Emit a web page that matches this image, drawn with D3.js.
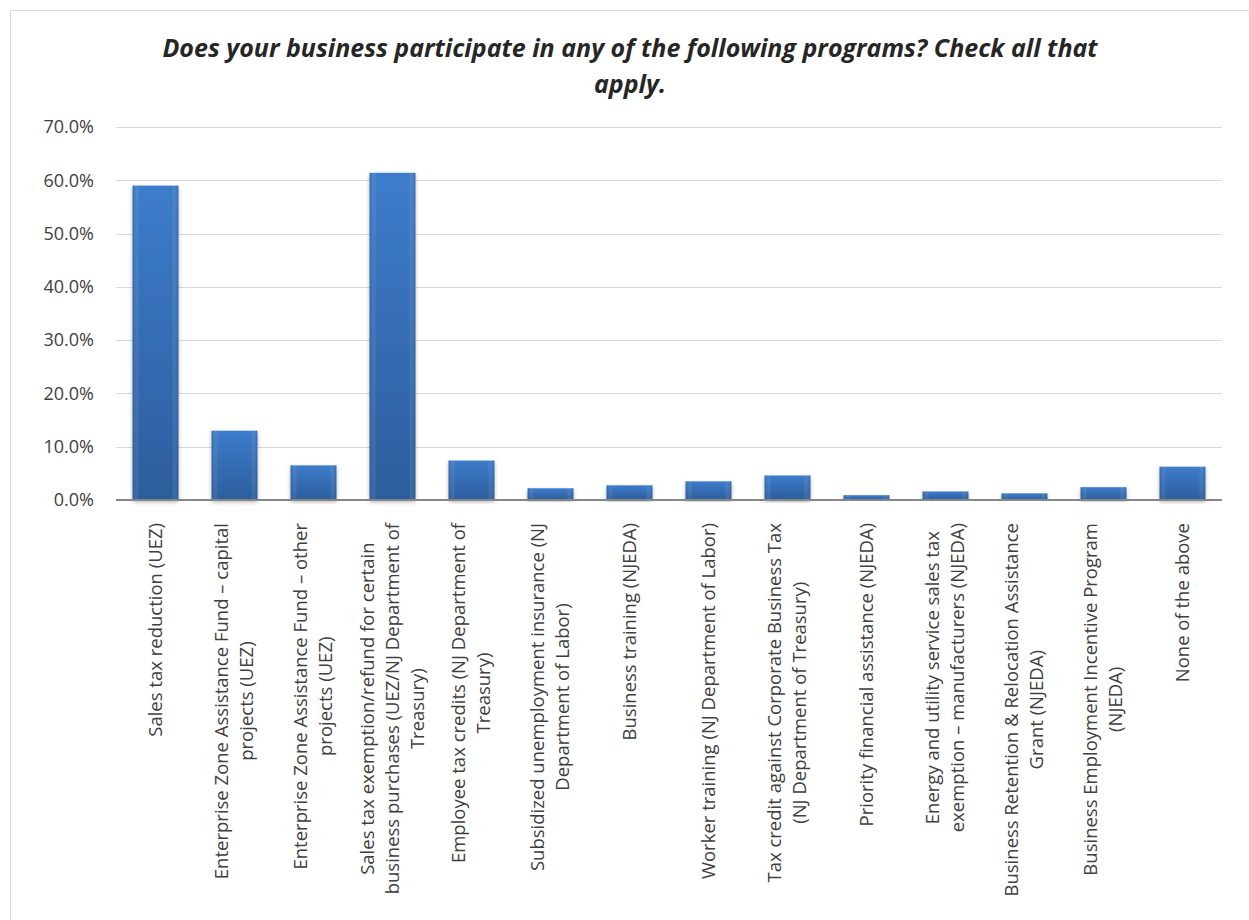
<!DOCTYPE html>
<html>
<head>
<meta charset="utf-8">
<script src="https://cdn.jsdelivr.net/npm/d3@7"></script>
<style>
  body { margin: 0; background: #fff; }
  #chart { width: 1249px; height: 920px; }
  text { font-family: "Open Sans", "Noto Sans", sans-serif; }
</style>
</head>
<body>
<div id="chart"></div>
<script>
// categories (line breaks as in the original axis labels)
const categories = [
    ["Sales tax reduction (UEZ)"],
    ["Enterprise Zone Assistance Fund \u2013 capital", "projects (UEZ)"],
    ["Enterprise Zone Assistance Fund \u2013 other", "projects (UEZ)"],
    ["Sales tax exemption/refund for certain", "business purchases (UEZ/NJ Department of", "Treasury)"],
    ["Employee tax credits (NJ Department of", "Treasury)"],
    ["Subsidized unemployment insurance (NJ", "Department of Labor)"],
    ["Business training (NJEDA)"],
    ["Worker training (NJ Department of Labor)"],
    ["Tax credit against Corporate Business Tax", "(NJ Department of Treasury)"],
    ["Priority financial assistance (NJEDA)"],
    ["Energy and utility service sales tax", "exemption \u2013 manufacturers (NJEDA)"],
    ["Business Retention & Relocation Assistance", "Grant (NJEDA)"],
    ["Business Employment Incentive Program", "(NJEDA)"],
    ["None of the above"]
];
const values = [0.590, 0.130, 0.065, 0.614, 0.074, 0.022, 0.0275, 0.035, 0.046, 0.009, 0.016, 0.0125, 0.024, 0.0625];
const yTicks = [0, 0.1, 0.2, 0.3, 0.4, 0.5, 0.6, 0.7];
const titleLines = ["Does your business participate in any of the following programs? Check all that", "apply."];

function drawChart(selector) {
    const container = d3.select(selector);
    const width = 1249, height = 920;
    const margin = { top: 127, right: 27, bottom: 420, left: 116 };
    const chartWidth = width - margin.left - margin.right;
    const chartHeight = height - margin.top - margin.bottom;

    const root = container.append("svg")
        .attr("width", width)
        .attr("height", height);

    // outer frame
    root.append("rect")
        .attr("x", 10.5).attr("y", 10.5)
        .attr("width", width).attr("height", height)
        .style("fill", "#fff")
        .style("stroke", "#d9d9d9");

    const defs = root.append("defs");
    const grad = defs.append("linearGradient")
        .attr("id", "barGrad")
        .attr("x1", 0).attr("y1", 0).attr("x2", 0).attr("y2", 1);
    grad.append("stop").attr("offset", "0%").attr("stop-color", "#3d7ccb");
    grad.append("stop").attr("offset", "100%").attr("stop-color", "#2c5d9c");

    const side = defs.append("linearGradient")
        .attr("id", "barSide")
        .attr("x1", 0).attr("y1", 0).attr("x2", 1).attr("y2", 0);
    side.append("stop").attr("offset", "0%").attr("stop-color", "#1f4a80").attr("stop-opacity", 0.35);
    side.append("stop").attr("offset", "15%").attr("stop-color", "#ffffff").attr("stop-opacity", 0);
    side.append("stop").attr("offset", "85%").attr("stop-color", "#ffffff").attr("stop-opacity", 0);
    side.append("stop").attr("offset", "100%").attr("stop-color", "#1f4a80").attr("stop-opacity", 0.35);

    const shadow = defs.append("filter").attr("id", "shadow")
        .attr("x", "-20%").attr("y", "-5%").attr("width", "140%").attr("height", "115%");
    shadow.append("feDropShadow")
        .attr("dx", 0).attr("dy", 2).attr("stdDeviation", 2)
        .attr("flood-color", "#000").attr("flood-opacity", 0.3);

    // title
    root.append("text")
        .attr("x", 630)
        .attr("y", 57)
        .attr("text-anchor", "middle")
        .style("font-size", "25px")
        .style("font-weight", "bold")
        .style("font-style", "italic")
        .style("fill", "#262626")
        .selectAll("tspan")
        .data(titleLines)
        .enter()
        .append("tspan")
        .attr("x", 630)
        .attr("dy", (d, i) => i === 0 ? 0 : 36)
        .text(d => d);

    const svg = root.append("g")
        .attr("transform", `translate(${margin.left},${margin.top})`);

    const x = d3.scaleBand()
        .range([0, chartWidth])
        .domain(d3.range(categories.length))
        .paddingInner(0.42)
        .paddingOuter(0.21);

    const y = d3.scaleLinear()
        .range([chartHeight, 0])
        .domain([0, 0.7]);

    // grid
    svg.selectAll(".grid")
        .data(yTicks.slice(1))
        .enter()
        .append("line")
        .attr("x1", 0)
        .attr("x2", chartWidth)
        .attr("y1", d => Math.round(y(d)) + 0.5)
        .attr("y2", d => Math.round(y(d)) + 0.5)
        .style("stroke", "#d9d9d9")
        .style("stroke-width", 1);

    // y labels
    svg.selectAll(".ylab")
        .data(yTicks)
        .enter()
        .append("text")
        .attr("x", -22)
        .attr("y", d => y(d))
        .attr("dy", "0.35em")
        .attr("text-anchor", "end")
        .style("font-size", "18px")
        .style("fill", "#404040")
        .text(d => d3.format(".1%")(d));

    // bars
    const bars = svg.selectAll(".bar")
        .data(values)
        .enter()
        .append("g");

    bars.append("rect")
        .attr("x", (d, i) => x(i))
        .attr("width", x.bandwidth())
        .attr("y", d => y(d))
        .attr("height", d => chartHeight - y(d))
        .style("fill", "url(#barGrad)")
        .attr("filter", "url(#shadow)");

    bars.append("rect")
        .attr("x", (d, i) => x(i))
        .attr("width", x.bandwidth())
        .attr("y", d => y(d))
        .attr("height", d => chartHeight - y(d))
        .style("fill", "url(#barSide)");

    // baseline
    svg.append("line")
        .attr("x1", 0)
        .attr("x2", chartWidth)
        .attr("y1", chartHeight)
        .attr("y2", chartHeight)
        .style("stroke", "#868686")
        .style("stroke-width", 2);

    // x labels, rotated, lines centred on each other, block hanging from the axis
    const lineGap = 25;
    const labels = svg.selectAll(".xlab")
        .data(categories)
        .enter()
        .append("g")
        .attr("transform", (d, i) => `translate(${x(i) + x.bandwidth() / 2},${chartHeight + 23}) rotate(-90)`);

    labels.each(function (lines) {
        const g = d3.select(this);
        const t = g.append("text")
            .attr("text-anchor", "middle")
            .style("font-size", "18.5px")
            .style("fill", "#404040");
        const spans = t.selectAll("tspan")
            .data(lines)
            .enter()
            .append("tspan")
            .attr("y", (d, k) => (k - (lines.length - 1) / 2) * lineGap)
            .attr("dy", "0.35em")
            .text(d => d);
        let maxLen = 0;
        spans.each(function () { maxLen = Math.max(maxLen, this.getComputedTextLength()); });
        spans.attr("x", -maxLen / 2);
    });
}

drawChart("#chart");
</script>
</body>
</html>
